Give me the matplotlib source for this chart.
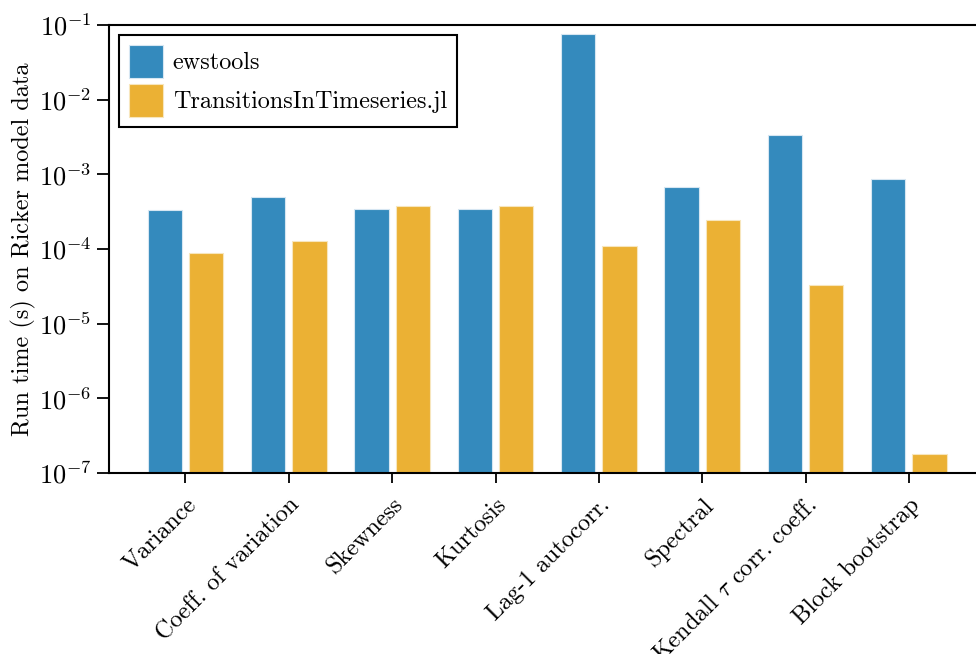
import numpy as np
import matplotlib
matplotlib.use("Agg")
import matplotlib.pyplot as plt

plt.rcParams['font.family'] = ['cmr10', 'DejaVu Serif']
plt.rcParams['mathtext.fontset'] = 'cm'
plt.rcParams['axes.formatter.use_mathtext'] = True

categories = ['Variance', 'Coeff. of variation', 'Skewness', 'Kurtosis',
              'Lag-1 autocorr.', 'Spectral', r'Kendall $\tau$ corr. coeff.',
              'Block bootstrap']
ewstools = [3.3e-4, 4.9e-4, 3.4e-4, 3.47e-4, 7.5e-2, 6.7e-4, 3.35e-3, 8.6e-4]
tits = [8.9e-5, 1.29e-4, 3.77e-4, 3.77e-4, 1.10e-4, 2.42e-4, 3.33e-5, 1.78e-7]

x = np.arange(len(categories))
fig = plt.figure(figsize=(9.76, 6.54), dpi=100)
ax = fig.add_axes([0.1117, 0.2768, 0.9, 0.685])

ax.bar(x - 0.2, ewstools, width=0.33, color='#348ABD', edgecolor='#d6e6f2',
       linewidth=0.8, label='ewstools', bottom=1e-9)
ax.bar(x + 0.2, tits, width=0.33, color='#EBB134', edgecolor='#f7e6bd',
       linewidth=0.8, label='TransitionsInTimeseries.jl', bottom=1e-9)

ax.set_yscale('log')
ax.set_ylim(1e-7, 1e-1)
ax.set_xlim(-0.74, 7.76)
ax.set_xticks(x)
ax.set_xticklabels(categories, rotation=45, ha='right', rotation_mode='anchor',
                   fontsize=17.5)
ax.yaxis.set_minor_locator(matplotlib.ticker.NullLocator())
ax.tick_params(axis='y', labelsize=19, length=9, width=1.3, direction='out')
ax.tick_params(axis='x', length=7, width=1.3, direction='out', pad=8)
for s in ax.spines.values():
    s.set_linewidth(1.5)

ax.set_ylabel('Run time (s) on Ricker model data', fontsize=17.5, labelpad=2)

leg = ax.legend(loc='upper left', fontsize=17.4, fancybox=False, framealpha=1,
                edgecolor='black', handlelength=1.4, handleheight=1.7,
                borderaxespad=0.42, handletextpad=0.4, labelspacing=0.25,
                borderpad=0.42)
leg.get_frame().set_linewidth(1.5)

fig.savefig('out.png', dpi=100)
plt.close()
